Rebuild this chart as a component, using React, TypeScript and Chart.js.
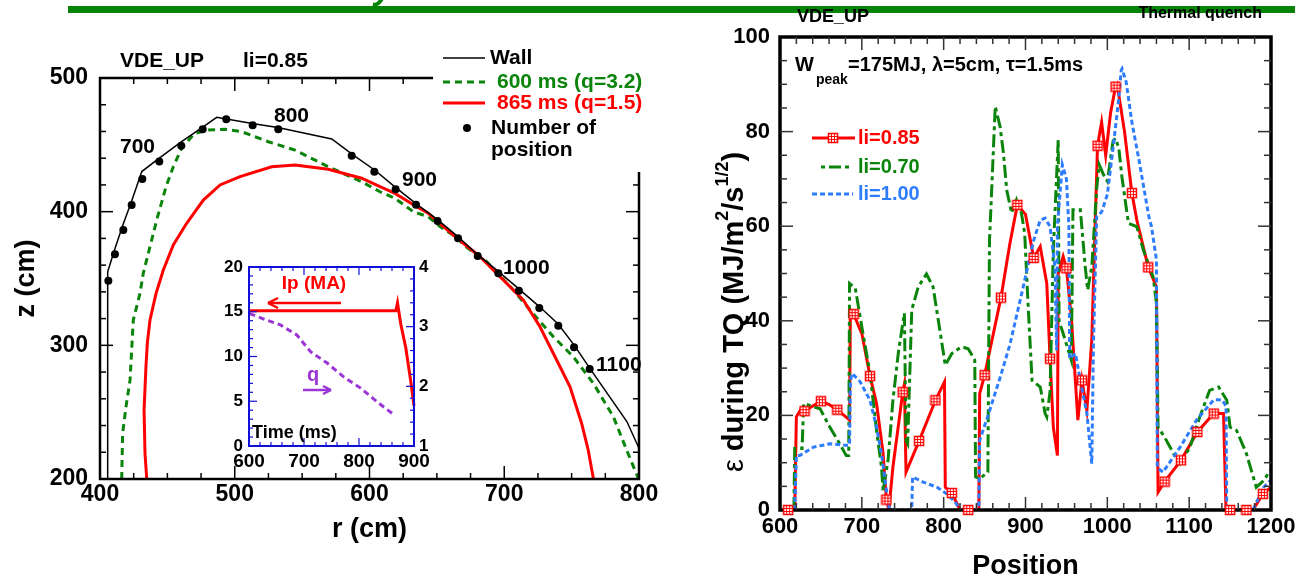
import React, { useEffect, useRef } from 'react';
import { Chart, registerables } from 'chart.js';
Chart.register(...registerables);

const FONT = '"Liberation Sans", Arial, Helvetica, sans-serif';
const W = 1295;
const H = 583;
const RED = '#ff0000';
const GREEN = '#0a840a';
const BLUE = '#2f7dff';
const PURPLE = '#9a35d6';
const INSET_BLUE = '#1010d8';

// ---------------- Left panel: plasma boundary (r, z in cm) ----------------
const wallR = [405.7, 405.7, 411, 417, 423.5, 431, 444, 460, 476, 486.6, 513, 532, 572, 587, 604, 619.5, 634.5, 650.5, 666, 680, 696, 711, 726, 740, 752, 763.4, 791, 800];
const wallZ = [200, 355, 372, 390, 408, 430, 440, 452, 463, 470.6, 466, 463, 454.4, 443, 431, 418, 406, 394, 381, 368, 355, 342, 329, 316, 300, 283, 243, 223];
const dotR = [406.2, 411.1, 417.3, 423.5, 431.4, 444.0, 460.3, 476.2, 493.7, 513.3, 532.3, 586.8, 603.6, 619.4, 634.5, 650.5, 665.7, 680.3, 695.6, 710.9, 726.0, 740.1, 751.8, 763.4];
const dotZ = [348.4, 368.1, 386.3, 405.0, 424.4, 437.5, 449.3, 461.7, 469.1, 464.6, 461.6, 441.9, 429.9, 416.8, 405.1, 393.0, 380.1, 366.8, 353.9, 340.9, 327.9, 314.7, 298.5, 282.3];
const t600R = [416.1, 416.8, 419.3, 422.3, 424.7, 429.7, 432.1, 437.1, 442.1, 449, 454.4, 460.6, 468, 470.5, 480.4, 492.8, 505.2, 524.9, 544.7, 569.4, 594.2, 607.8, 618.9, 632.5, 643.6, 652.3, 665.9, 669.6, 687, 706.7, 719.1, 736.4, 751.2, 766.1, 781, 790.8, 799.5];
const t600Z = [200, 234.2, 254.1, 274.1, 318.9, 338.9, 353.9, 373.8, 393.8, 418.7, 433.6, 447.4, 456.1, 458.6, 461.1, 461.6, 459.8, 452.3, 446.1, 433.6, 422.4, 414.9, 410, 400, 396.2, 388.8, 380.1, 375.1, 362.6, 341.4, 326.4, 306.5, 291.5, 271.6, 246.6, 221.7, 200.5];
const t865R = [434.7, 433.4, 432.7, 434.1, 435.1, 437.1, 441.6, 447, 454.4, 464.3, 476.7, 489.1, 503.9, 527.4, 544.7, 569.4, 594.2, 607.8, 618.9, 635, 643.6, 662.2, 668.3, 682, 696.8, 714.1, 726.5, 741.4, 748.8, 757.4, 762.3, 766.1];
const t865Z = [200, 219.2, 251.6, 284, 301.5, 319, 338.9, 356.4, 375.1, 391.3, 408.7, 420, 426.2, 433.6, 434.9, 431.7, 425, 418.7, 413.7, 403.7, 398.8, 382.5, 377.5, 366.3, 351.4, 333.9, 313.9, 284, 269, 241.7, 221.7, 200.5];
const posLabels = ['700', '800', '900', '1000', '1100'];

// ---------------- Inset: Ip and q vs time ----------------
const ipTime = [600, 700, 800, 860, 867, 870, 872, 876, 885, 894, 900];
const ipVal = [15.1, 15.1, 15.1, 15.1, 15.1, 16, 15.2, 13.6, 11, 7.3, 4.5];
const qTime = [601, 632, 657, 687, 712, 742, 772, 803, 833, 864];
const qVal = [3.22, 3.11, 3.03, 2.86, 2.58, 2.39, 2.16, 1.97, 1.74, 1.52];

// ---------------- Right panel: energy impact parameter vs position ----------------
const redPos = [610, 618, 620, 626, 630, 640, 650, 660, 670, 683, 685, 686, 690, 700, 710, 718, 726, 730, 733, 738, 750, 752, 754, 770, 790, 801, 802, 810, 820, 830, 843, 844, 850, 870, 881, 890, 900, 910, 918, 926, 930, 934, 939, 940, 946, 950, 956, 964, 969, 975, 981, 988, 993, 998, 1004, 1010, 1012, 1021, 1030, 1036, 1050, 1060, 1062, 1070, 1090, 1110, 1130, 1142, 1145, 1150, 1170, 1178, 1190, 1200];
const redVal = [0, 0, 19.7, 21.4, 20.9, 22, 23, 22.3, 21.2, 19.3, 19, 42.3, 41.4, 37.3, 28.3, 22.5, 11.9, 2.2, 0, 9.1, 24.9, 26.6, 8, 14.6, 23.2, 27.1, 4.8, 3.6, 0, 0, 0, 24.6, 28.5, 44.9, 56.4, 64.5, 62.5, 53.3, 55.7, 47.9, 32, 17.5, 11.5, 50, 53.6, 51.1, 40.8, 19, 27.4, 21.1, 35.9, 77, 82, 75, 84, 89.5, 90, 80, 67, 61.3, 51.3, 47.2, 3.8, 6, 10.5, 16.5, 20.4, 20.4, 0, 0, 0, 0, 3.4, 4.8];
const redMarkers = [610, 630, 650, 670, 690, 710, 730, 750, 770, 790, 810, 830, 850, 870, 890, 910, 930, 950, 969, 988, 1010, 1030, 1050, 1070, 1090, 1110, 1130, 1150, 1170, 1190];
const greenPos = [617, 618, 627, 629, 649, 661, 673, 681, 684, 685, 692, 700, 710, 718, 724, 726, 732, 738, 745, 752, 754, 756, 761, 769, 779, 787, 796, 802, 810, 822, 830, 838, 839, 844, 854, 856, 859, 863, 869, 873, 877, 883, 889, 895, 899, 903, 908, 918, 924, 926, 930, 934, 940, 941, 946, 956, 958, 967, 973, 976, 981, 987, 990, 995, 1000, 1007, 1010, 1014, 1018, 1024, 1026, 1036, 1044, 1056, 1060, 1062, 1070, 1081, 1089, 1101, 1113, 1125, 1136, 1146, 1150, 1158, 1170, 1182, 1191, 1199];
const greenVal = [0, 13, 13, 22.5, 21.4, 17.5, 14, 11.5, 11.5, 47.9, 46.9, 38.7, 28.9, 16.8, 9.1, 4.1, 10.5, 23.2, 33.8, 41.6, 14.7, 14, 42.3, 47.2, 49.9, 47.2, 37.3, 30.6, 33.1, 34.5, 34.1, 31.7, 7, 6.6, 8, 57, 69, 85.3, 81, 75.5, 67.7, 62.8, 65.6, 62.8, 58.5, 44, 27.4, 26, 20.4, 19.7, 25, 55, 78.3, 40, 37.3, 31.7, 63.5, 63.5, 51.4, 46.5, 51.4, 68, 73, 71, 69.5, 78, 78.6, 76.5, 70.2, 62.8, 60.6, 59.9, 55, 49.3, 43.7, 17.5, 15.4, 11.9, 9.8, 13.3, 19.7, 25.3, 26, 23.2, 17.5, 16.8, 11.9, 4.8, 6.2, 8.4];
const bluePos = [618, 620, 624, 641, 661, 679, 685, 686, 688, 698, 710, 718, 724, 732, 734, 761, 762, 775, 792, 804, 814, 820, 843, 844, 855, 869, 881, 897, 910, 918, 924, 930, 936, 938, 939, 945, 950, 953, 954, 961, 967, 975, 981, 983, 987, 993, 1000, 1007, 1014, 1017, 1018, 1023, 1030, 1039, 1046, 1051, 1054, 1060, 1061, 1068, 1089, 1109, 1130, 1140, 1145, 1146, 1178, 1191, 1199];
const blueVal = [0, 11.5, 11.5, 13.3, 14, 13.7, 13.7, 27.1, 28.9, 27.1, 23.2, 17.5, 11.9, 1.7, 0, 0, 7, 5.9, 4.8, 3.4, 1.7, 0, 0, 14.7, 20.4, 28, 35, 47, 57, 61.3, 61.7, 59.9, 51.4, 33.8, 60, 73, 70, 60, 32, 33.1, 27.4, 20.4, 9.8, 35, 62, 63, 66.7, 76.5, 87, 93, 93.3, 90.5, 82, 73.7, 66.7, 61.8, 59.9, 52.9, 9, 8, 13.3, 19, 23.3, 23.3, 22, 0, 0, 4.8, 6.2];
const seriesNames = ['li=0.85', 'li=0.70', 'li=1.00'];

const pts = (xs: number[], ys: number[]) => xs.map((x, i) => ({ x, y: ys[i] }));
const bold = (s: number) => `bold ${s}px ${FONT}`;

function txt(ctx: CanvasRenderingContext2D, s: string, x: number, y: number, font: string, color = '#000', align: CanvasTextAlign = 'left') {
  ctx.font = font;
  ctx.fillStyle = color;
  ctx.textAlign = align;
  ctx.textBaseline = 'middle';
  ctx.fillText(s, x, y);
}
function seg(ctx: CanvasRenderingContext2D, x1: number, y1: number, x2: number, y2: number) {
  ctx.beginPath();
  ctx.moveTo(x1, y1);
  ctx.lineTo(x2, y2);
  ctx.stroke();
}
function eachTick(min: number, max: number, step: number, fn: (v: number) => void) {
  const n = Math.round((max - min) / step);
  for (let i = 1; i < n; i++) fn(+(min + i * step).toFixed(6));
}

function makeMarker(): HTMLCanvasElement {
  const c = document.createElement('canvas');
  c.width = 12;
  c.height = 12;
  const g = c.getContext('2d')!;
  g.fillStyle = '#fff';
  g.fillRect(1, 1, 10, 10);
  g.strokeStyle = RED;
  g.lineWidth = 1.5;
  g.strokeRect(1.5, 1.5, 9, 9);
  g.lineWidth = 1;
  [4.5, 7.5].forEach((p) => {
    seg(g, p, 2, p, 10);
    seg(g, 2, p, 10, p);
  });
  return c;
}

const tickFont = (size: number) => ({ family: FONT, size, weight: 'bold' as const });

function linAxis(min: number, max: number, step: number, size: number, padding: number, extra: any = {}) {
  return {
    type: 'linear',
    min,
    max,
    grid: { display: false, drawTicks: false },
    border: { display: false },
    ticks: {
      stepSize: step, font: tickFont(size), color: '#000', padding, autoSkip: false, maxRotation: 0,
      callback: (v: number) => String(v),
    },
    ...extra,
  };
}

export default function App() {
  const leftRef = useRef<HTMLCanvasElement>(null);
  const rightRef = useRef<HTMLCanvasElement>(null);
  const insetRef = useRef<HTMLCanvasElement>(null);

  useEffect(() => {
    const marker = makeMarker();
    const common = {
      animation: false as const,
      responsive: false,
      devicePixelRatio: 1,
      events: [] as any[],
      plugins: { legend: { display: false }, tooltip: { enabled: false } },
    };

    // ---------- left chart ----------
    const leftPlugin = {
      id: 'leftDecor',
      afterDraw(chart: any) {
        const { ctx, chartArea: a, scales } = chart;
        const sx = scales.x;
        const sy = scales.y;
        ctx.save();
        ctx.fillStyle = '#fff';
        ctx.fillRect(434, 26, 240, 145);
        ctx.strokeStyle = '#000';
        ctx.lineWidth = 2.5;
        ctx.beginPath();
        ctx.moveTo(433, a.top);
        ctx.lineTo(a.left, a.top);
        ctx.lineTo(a.left, a.bottom);
        ctx.lineTo(a.right, a.bottom);
        ctx.lineTo(a.right, 172);
        ctx.stroke();
        ctx.lineWidth = 1.5;
        eachTick(200, 500, 20, (v) => {
          const p = sy.getPixelForValue(v);
          const L = v % 100 === 0 ? 13 : 6;
          seg(ctx, a.left, p, a.left + L, p);
          if (p > 178) seg(ctx, a.right, p, a.right - L, p);
        });
        eachTick(400, 800, 25, (v) => {
          const p = sx.getPixelForValue(v);
          const L = v % 100 === 0 ? 13 : 6;
          seg(ctx, p, a.bottom, p, a.bottom - L);
          if (p < 428) seg(ctx, p, a.top, p, a.top + L);
        });
        // header
        txt(ctx, 'VDE_UP', 120, 61, bold(21));
        txt(ctx, 'li=0.85', 243, 61, bold(21));
        // clipped slide-title glyph above the green rule
        ctx.font = `italic bold 34px ${FONT}`;
        ctx.fillStyle = '#078407';
        ctx.textAlign = 'left';
        ctx.textBaseline = 'alphabetic';
        ctx.fillText('y', 374, -1);
        // legend
        ctx.strokeStyle = '#000';
        ctx.lineWidth = 1.5;
        seg(ctx, 443, 58, 485, 58);
        txt(ctx, 'Wall', 490, 58, bold(21));
        ctx.strokeStyle = GREEN;
        ctx.lineWidth = 3;
        ctx.setLineDash([7, 5]);
        seg(ctx, 443, 82, 485, 82);
        ctx.setLineDash([]);
        txt(ctx, '600 ms (q=3.2)', 497, 82, bold(21), GREEN);
        ctx.strokeStyle = RED;
        seg(ctx, 443, 103, 485, 103);
        txt(ctx, '865 ms (q=1.5)', 497, 103, bold(21), RED);
        ctx.fillStyle = '#000';
        ctx.beginPath();
        ctx.arc(467, 128, 4, 0, Math.PI * 2);
        ctx.fill();
        txt(ctx, 'Number of', 491, 128, bold(21));
        txt(ctx, 'position', 491, 150, bold(21));
        // position number labels
        const lp = [[120, 147], [274, 116], [402, 180], [503, 268], [596, 365]];
        posLabels.forEach((s, i) => txt(ctx, s, lp[i][0], lp[i][1], bold(21)));
        ctx.restore();
      },
    };

    const left = new Chart(leftRef.current!, {
      type: 'scatter',
      data: {
        datasets: [
          { data: pts(dotR, dotZ), showLine: false, pointRadius: 4, pointBackgroundColor: '#000', pointBorderWidth: 0 },
          { data: pts(wallR, wallZ), showLine: true, borderColor: '#000', borderWidth: 1.5, pointRadius: 0 },
          { data: pts(t865R, t865Z), showLine: true, borderColor: RED, borderWidth: 3, pointRadius: 0 },
          { data: pts(t600R, t600Z), showLine: true, borderColor: GREEN, borderWidth: 3, borderDash: [7, 5], pointRadius: 0 },
        ],
      } as any,
      options: {
        ...common,
        layout: { padding: { left: 0, top: 78, right: W - 639, bottom: 0 } },
        scales: {
          x: linAxis(400, 800, 100, 23, 2, {
            position: 'bottom',
            title: { display: true, text: 'r (cm)', font: tickFont(27), color: '#000', padding: { top: 0, bottom: 37 } },
            afterFit: (s: any) => { s.height = 104; s.paddingLeft = 0; s.paddingRight = 0; },
          }),
          y: linAxis(200, 500, 100, 23, 12, {
            position: 'left',
            title: { display: true, text: 'z (cm)', font: tickFont(27), color: '#000', padding: { top: 10, bottom: 0 } },
            afterFit: (s: any) => { s.width = 100; s.paddingTop = 0; s.paddingBottom = 0; },
          }),
        },
      } as any,
      plugins: [leftPlugin],
    });

    // ---------- right chart ----------
    const drawFrameRight = (chart: any) => {
      const { ctx, chartArea: a, scales } = chart;
      const sx = scales.x;
      const sy = scales.y;
      ctx.save();
      ctx.strokeStyle = '#000';
      ctx.lineWidth = 3.5;
      ctx.strokeRect(a.left, a.top, a.right - a.left, a.bottom - a.top);
      ctx.strokeStyle = '#333';
      ctx.lineWidth = 1.5;
      eachTick(0, 100, 5, (v) => {
        const p = sy.getPixelForValue(v);
        const L = v % 20 === 0 ? 13 : 7;
        seg(ctx, a.left, p, a.left + L, p);
        seg(ctx, a.right, p, a.right - L, p);
      });
      eachTick(600, 1200, 20, (v) => {
        const p = sx.getPixelForValue(v);
        const L = v % 100 === 0 ? 13 : 7;
        seg(ctx, p, a.bottom, p, a.bottom - L);
        seg(ctx, p, a.top, p, a.top + L);
      });
      ctx.restore();
    };
    const rightPlugin = {
      id: 'rightDecor',
      beforeDatasetDraw(chart: any, args: any) {
        if (args.index === 0) drawFrameRight(chart);
      },
      afterDraw(chart: any) {
        const { ctx } = chart;
        ctx.save();
        txt(ctx, 'VDE_UP', 797, 17, bold(18));
        txt(ctx, 'Thermal quench', 1262, 14, bold(16), '#000', 'right');
        txt(ctx, 'W', 795, 65, bold(20));
        txt(ctx, 'peak', 816, 80, bold(14));
        txt(ctx, '=175MJ, \u03bb=5cm, \u03c4=1.5ms', 848, 65, bold(20));
        // legend
        ctx.lineWidth = 3;
        ctx.strokeStyle = RED;
        seg(ctx, 812, 138, 855, 138);
        ctx.drawImage(marker, 833 - 6, 138 - 6);
        txt(ctx, seriesNames[0], 858, 138, bold(20), RED);
        ctx.strokeStyle = GREEN;
        ctx.setLineDash([4, 4, 12, 4]);
        seg(ctx, 821, 167, 853, 167);
        txt(ctx, seriesNames[1], 858, 167, bold(20), GREEN);
        ctx.strokeStyle = BLUE;
        ctx.setLineDash([5, 3]);
        seg(ctx, 812, 194, 853, 194);
        ctx.setLineDash([]);
        txt(ctx, seriesNames[2], 858, 194, bold(20), BLUE);
        // y title
        const parts = [
          { t: '\u03b5', f: `29px ${FONT}`, dy: 0 },
          { t: ' during TQ (MJ/m', f: bold(29), dy: 0 },
          { t: '2', f: bold(18), dy: -12 },
          { t: '/s', f: bold(29), dy: 0 },
          { t: '1/2', f: bold(18), dy: -12 },
          { t: ')', f: bold(29), dy: 0 },
        ];
        ctx.translate(735, 312);
        ctx.rotate(-Math.PI / 2);
        let total = 0;
        parts.forEach((p) => { ctx.font = p.f; total += ctx.measureText(p.t).width; });
        let x = -total / 2;
        ctx.textAlign = 'left';
        ctx.textBaseline = 'middle';
        ctx.fillStyle = '#000';
        parts.forEach((p) => { ctx.font = p.f; ctx.fillText(p.t, x, p.dy); x += ctx.measureText(p.t).width; });
        ctx.restore();
      },
    };

    const right = new Chart(rightRef.current!, {
      type: 'scatter',
      data: {
        datasets: [
          {
            data: redMarkers.map((p) => ({ x: p, y: redVal[redPos.indexOf(p)] })),
            showLine: false, pointStyle: marker, pointRadius: 5, clip: false,
          },
          { data: pts(bluePos, blueVal), showLine: true, borderColor: BLUE, borderWidth: 3, borderDash: [5, 3], pointRadius: 0 },
          { data: pts(greenPos, greenVal), showLine: true, borderColor: GREEN, borderWidth: 3, borderDash: [13, 4, 4, 4], pointRadius: 0 },
          { data: pts(redPos, redVal), showLine: true, borderColor: RED, borderWidth: 3, pointRadius: 0 },
        ],
      } as any,
      options: {
        ...common,
        layout: { padding: { left: 690, top: 37, right: W - 1271, bottom: 0 } },
        scales: {
          x: linAxis(600, 1200, 100, 22, 4, {
            position: 'bottom',
            title: { display: true, text: 'Position', font: tickFont(27), color: '#000', padding: { top: 0, bottom: 0 } },
            afterFit: (s: any) => { s.height = 73; s.paddingLeft = 0; s.paddingRight = 0; },
          }),
          y: linAxis(0, 100, 20, 22, 10, {
            position: 'left',
            afterFit: (s: any) => { s.width = 90; s.paddingTop = 0; s.paddingBottom = 0; },
          }),
        },
      } as any,
      plugins: [rightPlugin],
    });

    // ---------- inset ----------
    const insetPlugin = {
      id: 'insetDecor',
      beforeDraw(chart: any) {
        const { ctx, chartArea: a } = chart;
        ctx.save();
        ctx.fillStyle = '#fff';
        ctx.fillRect(a.left, a.top, a.right - a.left, a.bottom - a.top);
        ctx.restore();
      },
      afterDraw(chart: any) {
        const { ctx, chartArea: a, scales } = chart;
        const sx = scales.x;
        const sy = scales.y;
        const sy2 = scales.y2;
        ctx.save();
        ctx.strokeStyle = INSET_BLUE;
        ctx.lineWidth = 2;
        ctx.strokeRect(a.left, a.top, a.right - a.left, a.bottom - a.top);
        ctx.lineWidth = 1.2;
        eachTick(600, 900, 20, (v) => {
          const p = sx.getPixelForValue(v);
          const L = v % 100 === 0 ? 8 : 4;
          seg(ctx, p, a.bottom, p, a.bottom - L);
          seg(ctx, p, a.top, p, a.top + L);
        });
        eachTick(0, 20, 1, (v) => {
          const p = sy.getPixelForValue(v);
          const L = v % 5 === 0 ? 8 : 4;
          seg(ctx, a.left, p, a.left + L, p);
        });
        eachTick(1, 4, 0.2, (v) => {
          const p = sy2.getPixelForValue(v);
          const L = Math.abs(v - Math.round(v)) < 1e-6 ? 8 : 4;
          seg(ctx, a.right, p, a.right - L, p);
        });
        txt(ctx, 'Ip (MA)', 314, 284, bold(19), RED, 'center');
        ctx.strokeStyle = RED;
        ctx.lineWidth = 2.5;
        seg(ctx, 341, 303, 268, 303);
        seg(ctx, 268, 303, 278, 298);
        seg(ctx, 268, 303, 278, 308);
        txt(ctx, 'q', 313, 375, bold(20), PURPLE, 'center');
        ctx.strokeStyle = PURPLE;
        seg(ctx, 303, 390, 331, 390);
        seg(ctx, 331, 390, 323, 386);
        seg(ctx, 331, 390, 323, 394);
        txt(ctx, 'Time (ms)', 252, 433, bold(18));
        ctx.restore();
      },
    };

    const inset = new Chart(insetRef.current!, {
      type: 'scatter',
      data: {
        datasets: [
          { data: pts(ipTime, ipVal), yAxisID: 'y', showLine: true, borderColor: RED, borderWidth: 3, pointRadius: 0, clip: false },
          { data: pts(qTime, qVal), yAxisID: 'y2', showLine: true, borderColor: PURPLE, borderWidth: 3, borderDash: [6, 4], pointRadius: 0 },
        ],
      } as any,
      options: {
        ...common,
        layout: { padding: { left: 200, top: 267, right: 844, bottom: H - 480 } },
        scales: {
          x: linAxis(600, 900, 100, 19, 4, {
            position: 'bottom',
            afterFit: (s: any) => { s.height = 34; s.paddingLeft = 0; s.paddingRight = 0; },
          }),
          y: linAxis(0, 20, 5, 17, 6, {
            position: 'left',
            afterFit: (s: any) => { s.width = 49; s.paddingTop = 0; s.paddingBottom = 0; },
          }),
          y2: linAxis(1, 4, 1, 17, 5, {
            position: 'right',
            afterFit: (s: any) => { s.width = 37; s.paddingTop = 0; s.paddingBottom = 0; },
          }),
        },
      } as any,
      plugins: [insetPlugin],
    });

    return () => {
      left.destroy();
      right.destroy();
      inset.destroy();
    };
  }, []);

  const cs: React.CSSProperties = { position: 'absolute', left: 0, top: 0 };
  return (
    <div style={{ position: 'absolute', left: 0, top: 0, width: W, height: H, background: '#fff', overflow: 'hidden' }}>
      <div style={{ position: 'absolute', left: 68, top: 6, width: W - 68, height: 7, background: '#078407' }} />
      <canvas ref={leftRef} width={W} height={H} style={cs} />
      <canvas ref={rightRef} width={W} height={H} style={cs} />
      <canvas ref={insetRef} width={W} height={H} style={cs} />
    </div>
  );
}
